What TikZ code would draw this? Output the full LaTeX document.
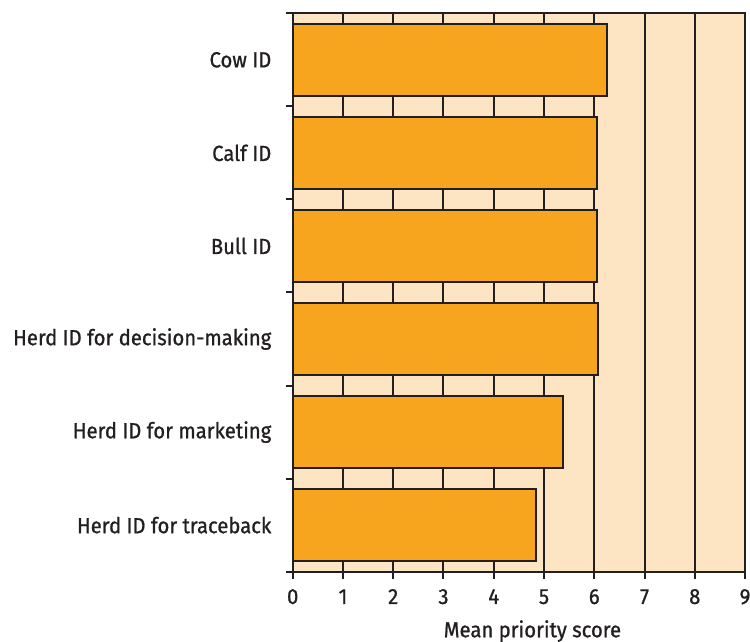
\documentclass[tikz,border=0pt]{standalone}
\usepackage{fontspec}
\setmainfont{Fira Sans}[FakeStretch=0.93, FakeBold=0.9]
\usetikzlibrary{positioning}
\definecolor{barfill}{HTML}{F7A51E}
\definecolor{panel}{HTML}{FDE4C2}
\definecolor{ink}{HTML}{231F20}

\begin{document}
\begin{tikzpicture}[
  x=25.13pt, y=46.53pt,
  font=\fontsize{10.9}{13}\selectfont,
  axisline/.style={ink, line width=1pt},
  gridline/.style={ink, line width=1pt},
  bar/.style={draw=ink, fill=barfill, line width=1pt},
  catlabel/.style={anchor=east, inner sep=0pt, text=ink},
  ticklabel/.style={anchor=base, inner sep=0pt, text=ink}
]
\useasboundingbox (-5.824,-0.755) rectangle (9.099,6.143);

% panel background and vertical grid
\fill[panel] (0,0) rectangle (9,6);
\foreach \g in {1,...,8}
  \draw[gridline] (\g,0) -- (\g,6);
\draw[axisline] (0,6) -- (9,6) -- (9,0);

% bars, bottom to top
\foreach \v/\t [count=\i from 0] in {4.85/Herd ID for traceback, 5.38/Herd ID for marketing, 6.07/Herd ID for decision-making, 6.06/Bull ID, 6.06/Calf ID, 6.26/Cow ID} {
  \draw[bar] (0,\i+0.113) rectangle (\v,\i+0.887);
  \node[catlabel] (cat\i) at (-0.418,\i+0.5) {\t};
}

% axes
\draw[axisline] (-0.13,0) -- (9,0);
\draw[axisline] (0,0) -- (0,6);
\foreach \k in {0,...,6}
  \draw[axisline] (-0.13,\k) -- (0,\k);
\foreach \g in {0,...,9} {
  \draw[axisline] (\g,0) -- (\g,-0.08);
  \node[ticklabel] (num\g) at (\g,-0.347) {\g};
}
\node[anchor=base, inner sep=0pt, text=ink] (xtitle) at (4.77,-0.705) {Mean priority score};
\end{tikzpicture}
\end{document}
